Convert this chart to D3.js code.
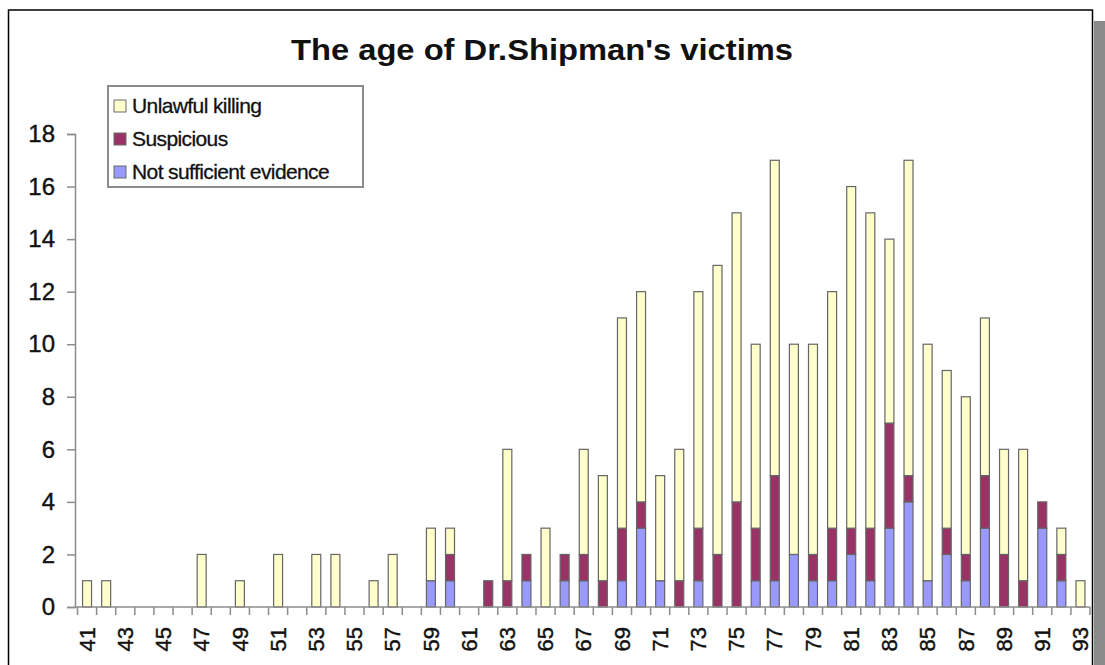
<!DOCTYPE html>
<html>
<head>
<meta charset="utf-8">
<script src="https://cdn.jsdelivr.net/npm/d3@7"></script>
<style>
  body { margin: 0; background: #fff; }
  text { font-family: "Liberation Sans", Arial, sans-serif; fill: #111; }
</style>
</head>
<body>
<svg id="chart" width="1105" height="665"></svg>
<script>
const width = 1105;
const height = 665;

// data (age -> number of victims)
const ages = ["41","42","43","44","45","46","47","48","49","50","51","52","53","54","55","56","57","58","59","60",
  "61","62","63","64","65","66","67","68","69","70","71","72","73","74","75","76","77","78","79","80",
  "81","82","83","84","85","86","87","88","89","90","91","92","93"];
const notSufficient = [0,0,0,0,0,0,0,0,0,0,0,0,0,0,0,0,0,0,1,1,
  0,0,0,1,0,1,1,0,1,3,1,0,1,0,0,1,1,2,1,1,
  2,1,3,4,1,2,1,3,0,0,3,1,0];
const suspicious = [0,0,0,0,0,0,0,0,0,0,0,0,0,0,0,0,0,0,0,1,
  0,1,1,1,0,1,1,1,2,1,0,1,2,2,4,2,4,0,1,2,
  1,2,4,1,0,1,1,2,2,1,1,1,0];
const unlawful = [1,1,0,0,0,0,2,0,1,0,2,0,2,2,0,1,2,0,2,1,
  0,0,5,0,3,0,4,4,8,8,4,5,9,11,11,7,12,8,8,9,
  13,12,7,12,9,6,6,6,4,5,0,1,1];
const yTicks = [0,2,4,6,8,10,12,14,16,18];

const series = [
  { key: "nse", label: "Not sufficient evidence", color: "#9999ff" },
  { key: "sus", label: "Suspicious", color: "#993366" },
  { key: "unl", label: "Unlawful killing", color: "#ffffcc" }
];

const rows = ages.map((a, i) => ({ age: a, nse: notSufficient[i], sus: suspicious[i], unl: unlawful[i] }));

const svg = d3.select("#chart");

// outer frame + grey strip on the right
svg.append("rect").attr("x", 1094).attr("y", 21).attr("width", 11).attr("height", height - 21).attr("fill", "#8a8a8a");
svg.append("path")
  .attr("d", `M8.5,${height} V10 H1092.5 V${height}`)
  .attr("fill", "none").attr("stroke", "#000").attr("stroke-width", 1.5);

const x = d3.scaleBand().domain(ages).range([77.5, 1090]).padding(0);
const y = d3.scaleLinear().domain([0, 18]).range([607, 134]);
const barW = x.bandwidth() * 0.47;

const stacked = d3.stack().keys(series.map(s => s.key))(rows);

svg.append("g")
  .selectAll("g")
  .data(stacked)
  .join("g")
  .attr("fill", (d, i) => series[i].color)
  .selectAll("rect")
  .data(d => d.filter(p => p[1] > p[0]))
  .join("rect")
  .attr("x", d => x(d.data.age) + (x.bandwidth() - barW) / 2)
  .attr("y", d => y(d[1]))
  .attr("width", barW)
  .attr("height", d => y(d[0]) - y(d[1]))
  .attr("stroke", "#666")
  .attr("stroke-width", 1.2);

// y axis
const yAxis = svg.append("g").attr("transform", "translate(75,0)")
  .call(d3.axisLeft(y).tickValues(yTicks).tickSize(8).tickPadding(12));
yAxis.select(".domain").attr("stroke", "#8c8c8c").attr("stroke-width", 1.5);
yAxis.selectAll(".tick line").attr("stroke", "#8c8c8c").attr("stroke-width", 1.5);
yAxis.selectAll(".tick text").attr("font-size", 24).attr("fill", "#111")
  .attr("stroke", "#111").attr("stroke-width", 0.4)
  .attr("font-family", "Liberation Sans, Arial, sans-serif");

// x axis: line, ticks at category boundaries, rotated labels
const xg = svg.append("g");
xg.append("line").attr("x1", 75).attr("x2", x.range()[1]).attr("y1", y(0)).attr("y2", y(0))
  .attr("stroke", "#8c8c8c").attr("stroke-width", 1.5);
const bounds = ages.map(a => x(a)).concat([x.range()[1]]);
xg.selectAll("line.tk").data(bounds).join("line").attr("class", "tk")
  .attr("x1", d => d).attr("x2", d => d).attr("y1", y(0)).attr("y2", y(0) + 8)
  .attr("stroke", "#8c8c8c").attr("stroke-width", 1.5);
xg.selectAll("text").data(ages.filter((a, i) => i % 2 === 0)).join("text")
  .attr("transform", d => `translate(${x(d) + x.bandwidth() / 2},627) rotate(-90)`)
  .attr("text-anchor", "end")
  .attr("dy", "0.35em")
  .attr("font-size", 22)
  .attr("stroke", "#111").attr("stroke-width", 0.4)
  .text(d => d);

// title
svg.append("text").attr("x", 542).attr("y", 60).attr("text-anchor", "middle")
  .attr("font-size", 30).attr("font-weight", "bold")
  .attr("textLength", 502).attr("lengthAdjust", "spacingAndGlyphs")
  .text("The age of Dr.Shipman's victims");

// legend
const legend = svg.append("g");
legend.append("rect").attr("x", 108).attr("y", 86).attr("width", 255).attr("height", 101)
  .attr("fill", "#fff").attr("stroke", "#8c8c8c").attr("stroke-width", 2);
const legendItems = series.slice().reverse();
const li = legend.selectAll("g.item").data(legendItems).join("g").attr("class", "item")
  .attr("transform", (d, i) => `translate(114,${106 + i * 33})`);
li.append("rect").attr("x", 0).attr("y", -6).attr("width", 12).attr("height", 12)
  .attr("fill", d => d.color).attr("stroke", "#6b6b6b").attr("stroke-width", 1);
li.append("text").attr("x", 18).attr("dy", "0.35em").attr("font-size", 21)
  .attr("letter-spacing", -0.6)
  .attr("stroke", "#111").attr("stroke-width", 0.3)
  .text(d => d.label);
</script>
</body>
</html>
